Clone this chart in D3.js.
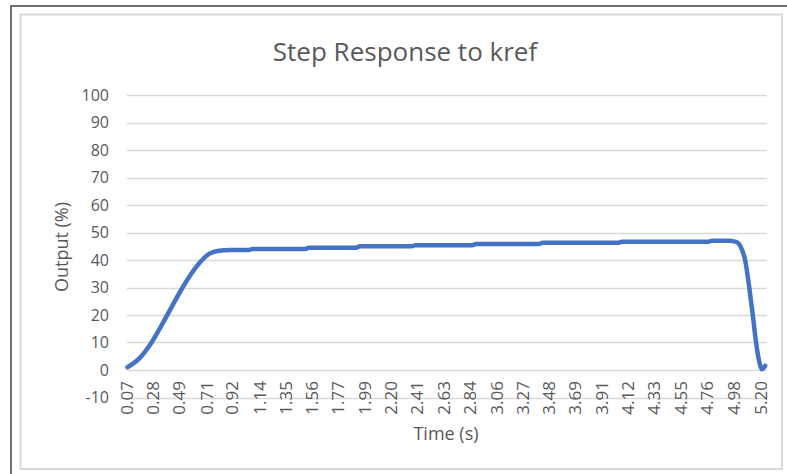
<!DOCTYPE html>
<html>
<head>
<meta charset="utf-8">
<script src="https://cdn.jsdelivr.net/npm/d3@7"></script>
<style>
  body { margin: 0; background: #fff; }
  svg { display: block; font-family: "Open Sans", "Noto Sans", sans-serif; }
</style>
</head>
<body>
<svg width="787" height="474"></svg>
<script>
// time samples (s)
const times = [0.07, 0.17, 0.25, 0.33, 0.41, 0.49, 0.57, 0.65, 0.73, 0.81, 0.90,
  1.05, 1.08, 1.51, 1.54, 1.92, 1.95, 2.37, 2.40, 2.86, 2.89, 3.40, 3.43,
  4.04, 4.07, 4.77, 4.80, 4.94, 5.00, 5.03, 5.07, 5.10, 5.13, 5.155, 5.18, 5.205, 5.23];
// output (%)
const output = [1.0, 4.4, 9.0, 15.0, 21.5, 28.0, 33.9, 38.8, 42.2, 43.4, 43.6,
  43.6, 44.0, 44.0, 44.5, 44.5, 45.0, 45.0, 45.4, 45.4, 45.8, 45.8, 46.3,
  46.3, 46.6, 46.6, 47.0, 47.0, 46.5, 45.0, 39.5, 30.5, 20.0, 10.5, 3.5, 0.3, 1.5];

const xLabels = ["0.07", "0.28", "0.49", "0.71", "0.92", "1.14", "1.35", "1.56", "1.77",
  "1.99", "2.20", "2.41", "2.63", "2.84", "3.06", "3.27", "3.48", "3.69", "3.91",
  "4.12", "4.33", "4.55", "4.76", "4.98", "5.20"];
const yTicks = [-10, 0, 10, 20, 30, 40, 50, 60, 70, 80, 90, 100];

const svg = d3.select("svg");
const textColor = "#595959";
const gridColor = "#d9d9d9";

// plot area
const plotLeft = 127, plotRight = 767, plotTop = 95, plotBottom = 397.5;

const xScale = d3.scaleLinear().domain([0.07, 5.245]).range([plotLeft + 0.5, plotRight]);
const yScale = d3.scaleLinear().domain([-10, 100]).range([plotBottom, plotTop]);

// chart borders
svg.append("rect")
  .attr("x", 11).attr("y", 6).attr("width", 790).attr("height", 480)
  .attr("fill", "none").attr("stroke", "#404040").attr("stroke-width", 1.5);
svg.append("rect")
  .attr("x", 20.5).attr("y", 14.5).attr("width", 761.5).attr("height", 454.5)
  .attr("fill", "#fff").attr("stroke", gridColor).attr("stroke-width", 2);

// gridlines
svg.append("g")
  .selectAll("line")
  .data(yTicks)
  .enter()
  .append("line")
  .attr("x1", plotLeft).attr("x2", plotRight)
  .attr("y1", (d) => Math.round(yScale(d)) + 0.5)
  .attr("y2", (d) => Math.round(yScale(d)) + 0.5)
  .attr("stroke", gridColor)
  .attr("stroke-width", 1.3);

// y axis labels
svg.append("g")
  .selectAll("text")
  .data(yTicks)
  .enter()
  .append("text")
  .attr("x", 109)
  .attr("y", (d) => yScale(d))
  .attr("dy", "0.35em")
  .attr("text-anchor", "end")
  .attr("fill", textColor)
  .style("font-size", "16px")
  .text((d) => d);

// x axis labels (rotated)
svg.append("g")
  .selectAll("text")
  .data(xLabels)
  .enter()
  .append("text")
  .attr("transform", (d) => "translate(" + xScale(+d) + ",381) rotate(-90)")
  .attr("dy", "0.35em")
  .attr("text-anchor", "end")
  .attr("fill", textColor)
  .style("font-size", "17px")
  .text((d) => d);

// line
const series = times.map((t, i) => [t, output[i]]);
svg.append("path")
  .datum(series)
  .attr("fill", "none")
  .attr("stroke", "#4472c4")
  .attr("stroke-width", 4.5)
  .attr("stroke-linejoin", "round")
  .attr("stroke-linecap", "round")
  .attr("d", d3.line()
    .x((d) => xScale(d[0]))
    .y((d) => yScale(d[1]))
    .curve(d3.curveMonotoneX));

// titles
svg.append("text")
  .attr("x", 405).attr("y", 61)
  .attr("text-anchor", "middle")
  .attr("fill", textColor)
  .style("font-size", "26px")
  .text("Step Response to kref");

svg.append("text")
  .attr("transform", "translate(62,247) rotate(-90)")
  .attr("dy", "0.35em")
  .attr("text-anchor", "middle")
  .attr("fill", textColor)
  .style("font-size", "18px")
  .text("Output (%)");

svg.append("text")
  .attr("x", 446).attr("y", 440)
  .attr("text-anchor", "middle")
  .attr("fill", textColor)
  .style("font-size", "18px")
  .text("Time (s)");
</script>
</body>
</html>
